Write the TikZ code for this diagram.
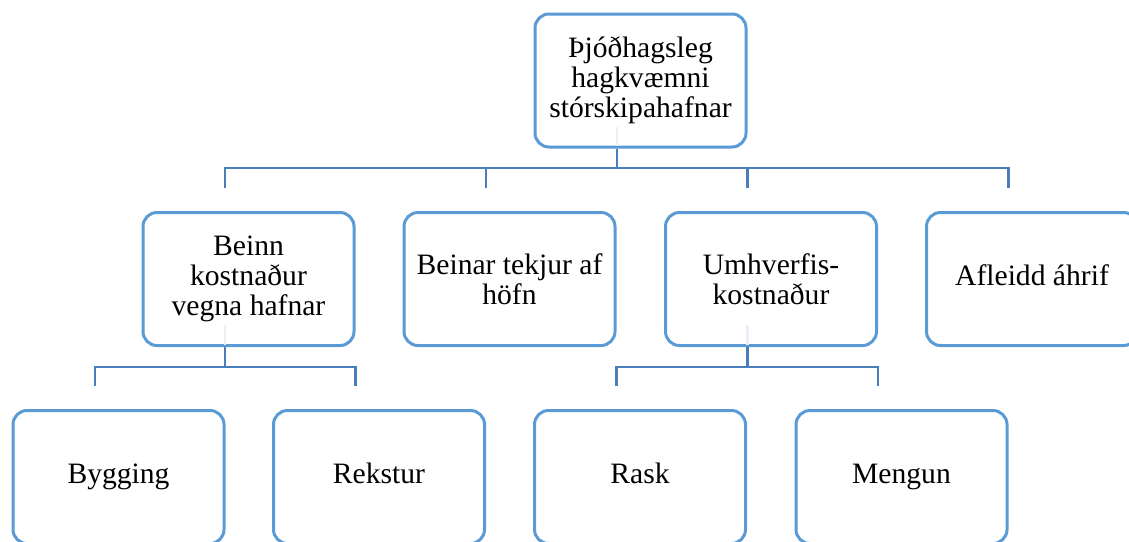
\documentclass[tikz,border=0pt]{standalone}
\usepackage{fontspec}
\setmainfont{Liberation Serif}
\definecolor{boxblue}{HTML}{5B9BD5}
\definecolor{linkblue}{HTML}{4A7EBB}
\begin{document}
\begin{tikzpicture}[x=0.5pt, y=-0.5pt,
    bnode/.style={rectangle, rounded corners=7pt, draw=boxblue, line width=1.5pt, fill=white, minimum width=105.5pt, minimum height=66.5pt, inner sep=3pt, align=center, font=\fontsize{14.8}{15}\selectfont},
    link/.style={draw=linkblue, line width=1.1pt},
    ghost/.style={draw=linkblue!12, line width=1.1pt},
]
\path[use as bounding box] (0,0) rectangle (1129,541);
\clip (0,0) rectangle (1129,541);

% top level
\node[bnode] (top) at (640.5,80.5) {Þjóðhagsleg\\hagkvæmni\\stórskipahafnar};

% second level
\node[bnode] (b1) at (248.5,279) {Beinn\\kostnaður\\vegna hafnar};
\node[bnode] (b2) at (509.5,279) {Beinar tekjur af\\höfn};
\node[bnode] (b3) at (771,279) {Umhverfis-\\kostnaður};
\node[bnode] (b4) at (1032,279) {\strut Afleidd áhrif};

% third level
\node[bnode] (c1) at (118.5,477) {\strut Bygging};
\node[bnode] (c2) at (379,477) {\strut Rekstur};
\node[bnode] (c3) at (640,477) {\strut Rask};
\node[bnode] (c4) at (901.5,477) {\strut Mengun};

% connectors
\coordinate (bus1) at (617,168);
\coordinate (bus2) at (225,367);
\coordinate (bus3) at (748,367);
\foreach \n in {b1,b2,b3,b4}
  \draw[link] ([xshift=-11.75pt]top.south) |- (bus1) -| ([xshift=-11.75pt,yshift=11.5pt]\n.north);
\foreach \n in {c1,c2}
  \draw[link] ([xshift=-11.75pt]b1.south) |- (bus2) -| ([xshift=-11.75pt,yshift=11.5pt]\n.north);
\foreach \n in {c3,c4}
  \draw[link] ([xshift=-11.75pt]b3.south) |- (bus3) -| ([xshift=-11.75pt,yshift=11.5pt]\n.north);

% faint stubs behind the boxes
\foreach \n in {top,b1,b3}
  \draw[ghost] ([xshift=-11.75pt,yshift=11pt]\n.south) -- ([xshift=-11.75pt,yshift=1.2pt]\n.south);
\end{tikzpicture}
\end{document}
